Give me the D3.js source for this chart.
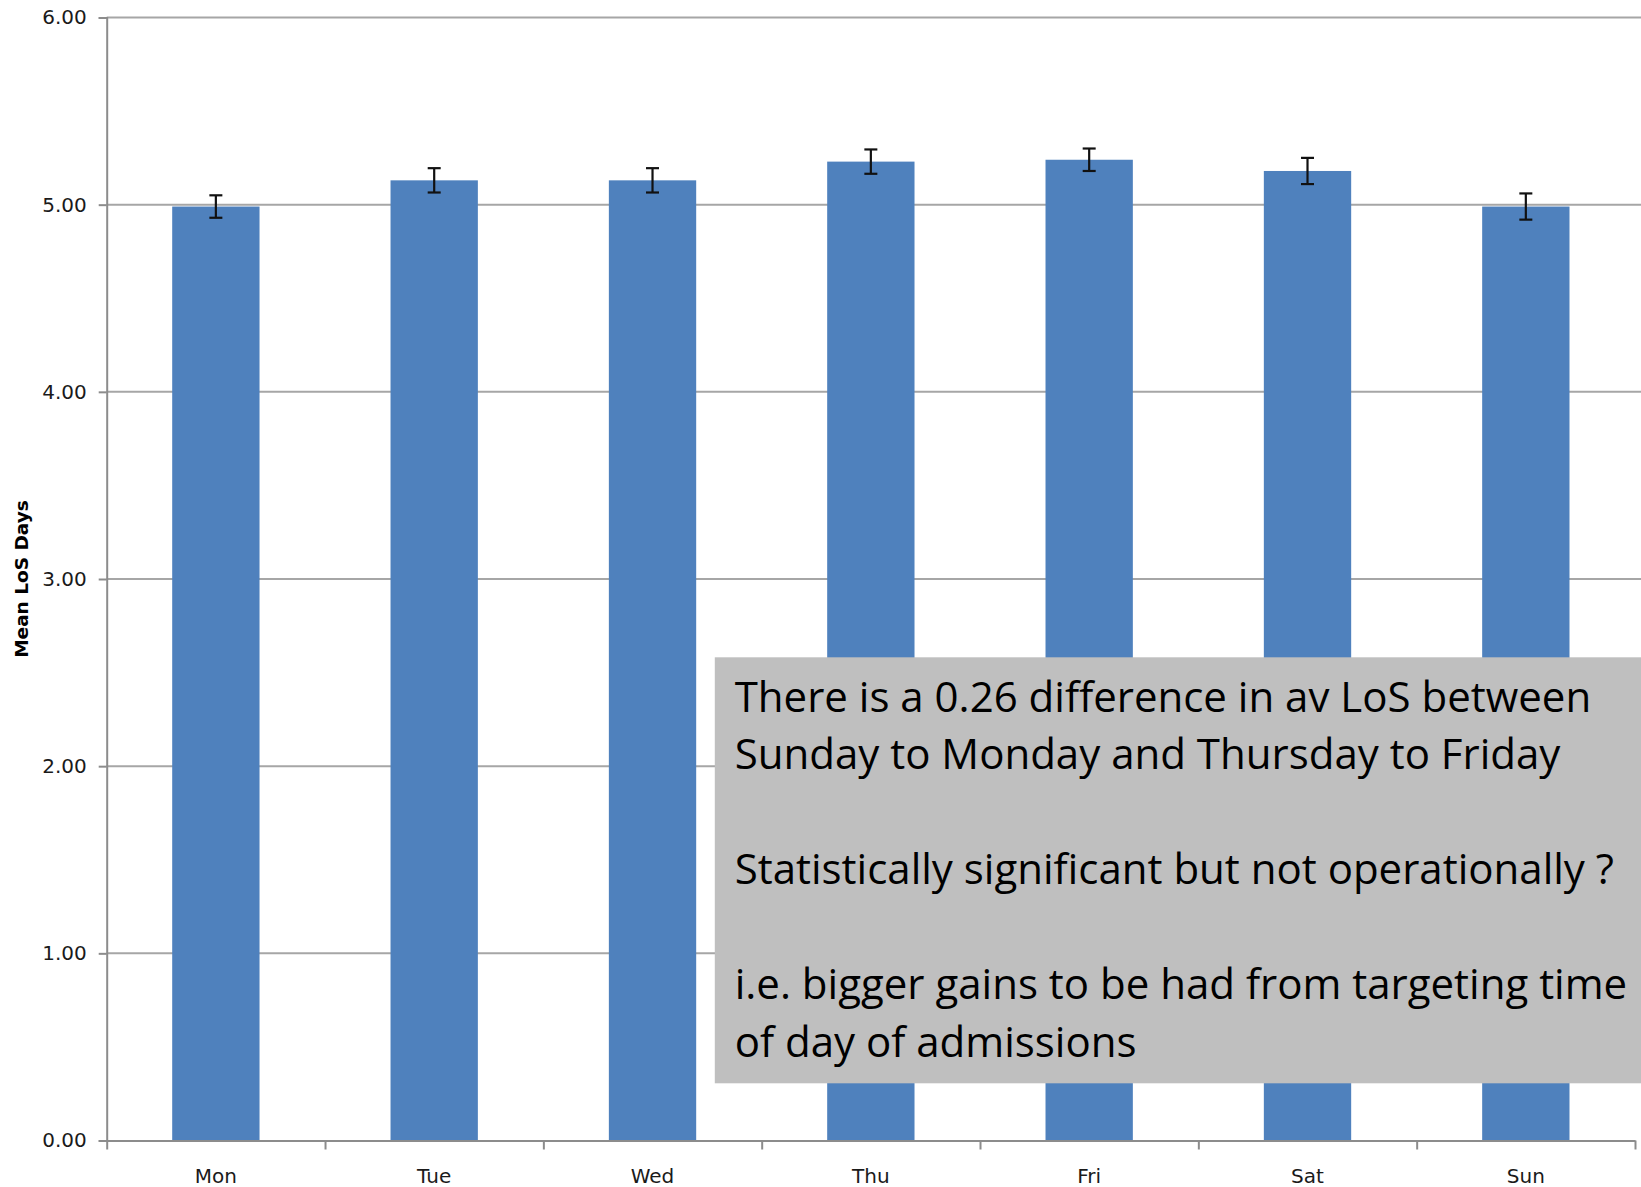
<!DOCTYPE html>
<html>
<head>
<meta charset="utf-8">
<script src="https://cdn.jsdelivr.net/npm/d3@7"></script>
<style>
  body { margin: 0; background: #fff; }
  svg { display: block; }
</style>
</head>
<body>
<svg width="1641" height="1187"></svg>
<script>
// data
var days = ["Mon", "Tue", "Wed", "Thu", "Fri", "Sat", "Sun"];
var meanLos = [4.99, 5.13, 5.13, 5.23, 5.24, 5.18, 4.99];
var errLos = [0.06, 0.065, 0.065, 0.065, 0.06, 0.07, 0.07];
var yTicks = [0, 1, 2, 3, 4, 5, 6];
var noteLines = [
  "There is a 0.26 difference in av LoS between",
  "Sunday to Monday and Thursday to Friday",
  "",
  "Statistically significant but not operationally ?",
  "",
  "i.e. bigger gains to be had from targeting time",
  "of day of admissions"
];

var svg = d3.select("svg");
var W = +svg.attr("width");
var plotLeft = 106.7, plotRight = 1635, plotTop = 17.5, plotBottom = 1140.5;

var xScale = d3.scaleBand().domain(days).range([plotLeft, plotRight])
  .paddingInner(0.6).paddingOuter(0.3);
var xEdge = d3.scaleLinear().domain([0, days.length]).range([plotLeft, plotRight]);
var yScale = d3.scaleLinear().domain([0, 6]).range([plotBottom, plotTop]);

var axisFont = "'DejaVu Sans', Verdana, sans-serif";

// gridlines
svg.append("g")
  .selectAll("line")
  .data(yTicks.filter(function(d) { return d > 0; }))
  .enter().append("line")
  .attr("x1", plotLeft).attr("x2", W)
  .attr("y1", function(d) { return yScale(d); })
  .attr("y2", function(d) { return yScale(d); })
  .attr("stroke", "#a6a6a6")
  .attr("stroke-width", 2);

// bars
svg.append("g")
  .selectAll("rect")
  .data(days)
  .enter().append("rect")
  .attr("x", function(d) { return xScale(d); })
  .attr("y", function(d, i) { return yScale(meanLos[i]); })
  .attr("width", xScale.bandwidth())
  .attr("height", function(d, i) { return plotBottom - yScale(meanLos[i]); })
  .attr("fill", "#4f81bd");

// error bars
var eb = svg.append("g").attr("stroke", "#111").attr("stroke-width", 2.2).attr("fill", "none");
days.forEach(function(d, i) {
  var cx = xScale(d) + xScale.bandwidth() / 2;
  var y1 = yScale(meanLos[i] + errLos[i]), y2 = yScale(meanLos[i] - errLos[i]);
  eb.append("line").attr("x1", cx).attr("x2", cx).attr("y1", y1).attr("y2", y2);
  eb.append("line").attr("x1", cx - 6.5).attr("x2", cx + 6.5).attr("y1", y1).attr("y2", y1);
  eb.append("line").attr("x1", cx - 6.5).attr("x2", cx + 6.5).attr("y1", y2).attr("y2", y2);
});

// y axis
var yAxis = svg.append("g")
  .attr("transform", "translate(" + plotLeft + ",0)")
  .call(d3.axisLeft(yScale).tickValues(yTicks).tickFormat(d3.format(".2f"))
    .tickSize(8).tickPadding(12));

// x axis: ticks on category boundaries, labels centred
var xAxis = svg.append("g")
  .attr("transform", "translate(0," + plotBottom + ")")
  .call(d3.axisBottom(xEdge).tickValues(d3.range(days.length + 1))
    .tickFormat("").tickSize(9).tickSizeOuter(0));

[yAxis, xAxis].forEach(function(a) {
  a.select(".domain").attr("stroke", "#8c8c8c").attr("stroke-width", 2);
  a.selectAll(".tick line").attr("stroke", "#8c8c8c").attr("stroke-width", 2);
  a.selectAll("text").attr("font-family", axisFont).attr("font-size", 20).attr("fill", "#1a1a1a");
});

svg.append("g")
  .selectAll("text")
  .data(days)
  .enter().append("text")
  .attr("x", function(d) { return xScale(d) + xScale.bandwidth() / 2; })
  .attr("y", 1183)
  .attr("text-anchor", "middle")
  .attr("font-family", axisFont)
  .attr("font-size", 20)
  .attr("fill", "#1a1a1a")
  .text(function(d) { return d; });

// axis title
svg.append("text")
  .attr("transform", "translate(28,579) rotate(-90)")
  .attr("text-anchor", "middle")
  .attr("font-family", axisFont)
  .attr("font-weight", "bold")
  .attr("font-size", 18.5)
  .attr("fill", "#000")
  .text("Mean LoS Days");

// note box
var note = svg.append("g");
note.append("rect")
  .attr("x", 714.8).attr("y", 657.3)
  .attr("width", W - 714.8).attr("height", 426)
  .attr("fill", "#bfbfbf");

note.selectAll("text")
  .data(noteLines)
  .enter().append("text")
  .attr("x", 734.7)
  .attr("y", function(d, i) { return 711.7 + i * 57.55; })
  .attr("font-family", "'Open Sans', sans-serif")
  .attr("font-size", 42)
  .attr("fill", "#000")
  .text(function(d) { return d; });
</script>
</body>
</html>
